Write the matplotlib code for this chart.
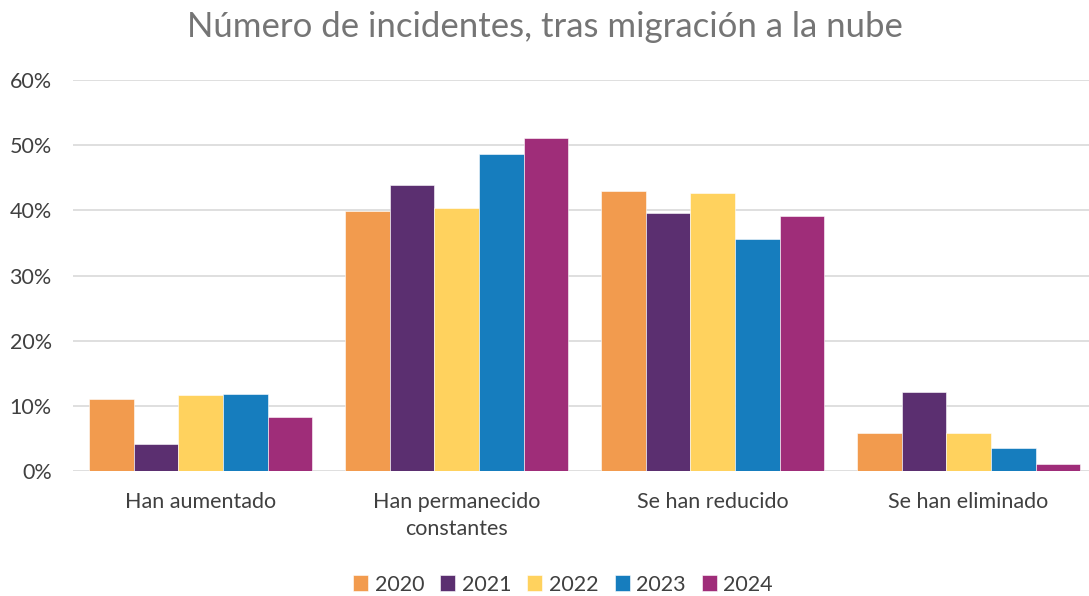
import matplotlib
matplotlib.use("Agg")
import matplotlib.pyplot as plt
import numpy as np

plt.rcParams['font.family'] = ['Lato', 'DejaVu Sans']

categories = ["Han aumentado", "Han permanecido\nconstantes", "Se han reducido", "Se han eliminado"]
years = ["2020", "2021", "2022", "2023", "2024"]
v2020 = [11.0, 39.9, 42.9, 5.9]
v2021 = [4.2, 43.9, 39.6, 12.1]
v2022 = [11.6, 40.3, 42.7, 5.8]
v2023 = [11.85, 48.6, 35.6, 3.5]
v2024 = [8.25, 51.1, 39.2, 1.1]
series = [v2020, v2021, v2022, v2023, v2024]
colors = ["#F29B4E", "#5B2F70", "#FFD25E", "#167DBE", "#9F2D79"]
yticks = [0, 10, 20, 30, 40, 50, 60]

fig = plt.figure(figsize=(10.89, 5.96), dpi=100)
ax = fig.add_axes([0.0666, 0.2097, 0.9403, 0.6561])

x = np.arange(len(categories))
bw = 0.1745
for i, (vals, c, yr) in enumerate(zip(series, colors, years)):
    ax.bar(x + (i - 2) * bw, vals, width=bw, color=c, label=yr,
           edgecolor="white", linewidth=0.4, zorder=3)

ax.set_xlim(-0.5, len(categories) - 0.5)
ax.set_ylim(0, 60)
ax.set_yticks(yticks)
ax.set_yticklabels([f"{t}%" for t in yticks])
ax.set_xticks(x)
ax.set_xticklabels(categories, linespacing=1.45)
ax.grid(axis="y", color="#D9D9D9", linewidth=1.2, zorder=0)
for s in ax.spines.values():
    s.set_visible(False)
ax.tick_params(axis="both", length=0, labelsize=15.5, colors="#404040")
ax.tick_params(axis="y", pad=15)
ax.tick_params(axis="x", pad=15)

fig.suptitle("Número de incidentes, tras migración a la nube", x=0.5, y=0.982,
             fontsize=25, color="#757575", va="top")

fig.legend(loc="lower center", ncol=5, frameon=False, fontsize=15.5,
           bbox_to_anchor=(0.517, -0.03), handlelength=0.7, handleheight=0.7,
           handletextpad=0.3, columnspacing=0.75, labelcolor="#404040")

fig.savefig("out.png", dpi=100)
